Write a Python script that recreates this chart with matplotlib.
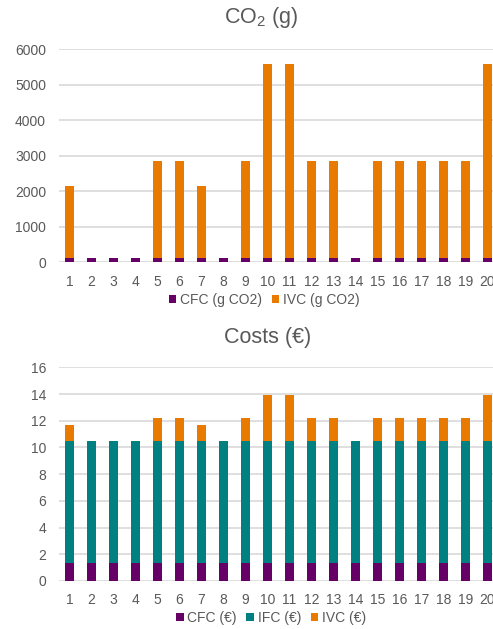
import matplotlib
matplotlib.use("Agg")
import matplotlib.pyplot as plt

plt.rcParams['font.family'] = ['Liberation Sans', 'DejaVu Sans']
plt.rcParams['mathtext.fontset'] = 'custom'
plt.rcParams['mathtext.rm'] = 'Liberation Sans'
plt.rcParams['mathtext.it'] = 'Liberation Sans'

# data
scenarios = list(range(1, 21))
co2_cfc = [120] * 20
co2_ivc = [2030, 0, 0, 0, 2740, 2740, 2030, 0, 2740, 5470,
           5470, 2740, 2740, 0, 2740, 2740, 2740, 2740, 2740, 5470]
cost_cfc = [1.37] * 20
cost_ifc = [9.13] * 20
cost_ivc = [1.2, 0, 0, 0, 1.7, 1.7, 1.2, 0, 1.7, 3.4,
            3.4, 1.7, 1.7, 0, 1.7, 1.7, 1.7, 1.7, 1.7, 3.4]

PURPLE = '#660066'
TEAL = '#008080'
ORANGE = '#E97A00'
GRID = '#D9D9D9'
TXT = '#595959'
W, H = 493, 629

fig = plt.figure(figsize=(W / 100, H / 100), dpi=100)


def style(ax, ymax, step):
    ax.set_xlim(0.5, 20.5)
    ax.set_ylim(0, ymax)
    ax.set_yticks(range(0, ymax + 1, step))
    ax.set_xticks(scenarios)
    ax.yaxis.grid(True, color=GRID, linewidth=1.2)
    ax.set_axisbelow(True)
    for s in ax.spines.values():
        s.set_visible(False)
    ax.tick_params(length=0, labelsize=10, labelcolor=TXT)
    ax.tick_params(axis='y', pad=9)
    ax.tick_params(axis='x', pad=9)


bw = 0.41

# top: CO2
ax1 = fig.add_axes([58.5 / W, 1 - 262.3 / H, 440 / W, 213 / H])
ax1.bar(scenarios, co2_cfc, bw, color=PURPLE, label='CFC (g CO2)')
ax1.bar(scenarios, co2_ivc, bw, bottom=co2_cfc, color=ORANGE, label='IVC (g CO2)')
style(ax1, 6000, 1000)
fig.text(261 / W, 1 - 18 / H, 'CO$_2$ (g)', ha='center', va='center', fontsize=15.5, color=TXT)
fig.legend(*ax1.get_legend_handles_labels(), loc='center', bbox_to_anchor=(264 / W, 1 - 300 / H),
           ncol=2, frameon=False, fontsize=10, labelcolor=TXT, handlelength=0.55, handleheight=0.55,
           handletextpad=0.25, columnspacing=0.7, borderpad=0)

# bottom: costs
bot2 = [a + b for a, b in zip(cost_cfc, cost_ifc)]
ax2 = fig.add_axes([58.5 / W, 1 - 581 / H, 440 / W, 213.7 / H])
ax2.bar(scenarios, cost_cfc, bw, color=PURPLE, label='CFC (€)')
ax2.bar(scenarios, cost_ifc, bw, bottom=cost_cfc, color=TEAL, label='IFC (€)')
ax2.bar(scenarios, cost_ivc, bw, bottom=bot2, color=ORANGE, label='IVC (€)')
style(ax2, 16, 2)
fig.text(267.5 / W, 1 - 337 / H, 'Costs (€)', ha='center', va='center', fontsize=15.5, color=TXT)
fig.legend(*ax2.get_legend_handles_labels(), loc='center', bbox_to_anchor=(271 / W, 1 - 618 / H),
           ncol=3, frameon=False, fontsize=10, labelcolor=TXT, handlelength=0.55, handleheight=0.55,
           handletextpad=0.25, columnspacing=0.7, borderpad=0)

fig.savefig('out.png', dpi=100, facecolor='white')
